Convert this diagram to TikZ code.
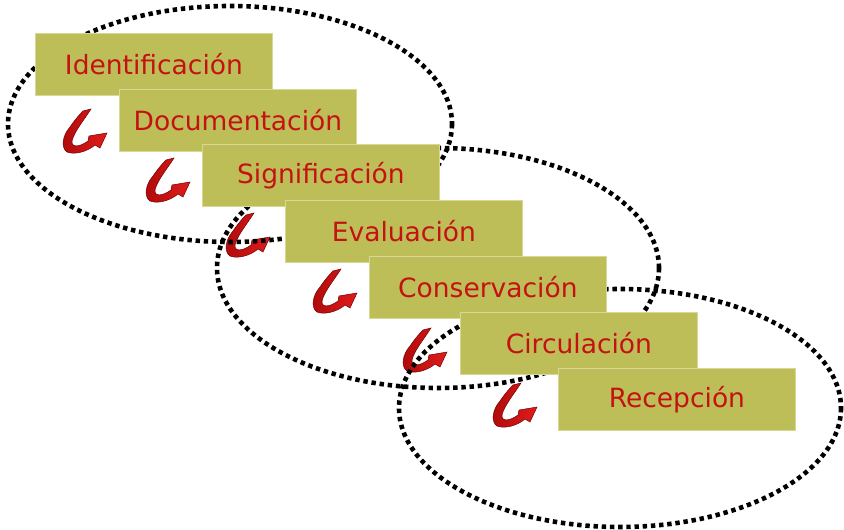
\documentclass[tikz,border=0pt]{standalone}
\usepackage{fontspec}
\setmainfont{DejaVu Sans}
\usetikzlibrary{calc}
\definecolor{boxolive}{RGB}{190,190,88}
\definecolor{boxedge}{RGB}{215,215,150}
\definecolor{txtred}{RGB}{196,18,18}
\definecolor{arrred}{RGB}{225,28,28}
\definecolor{arrmid}{RGB}{175,10,10}
\definecolor{arrdark}{RGB}{110,0,0}
\pgfdeclarelayer{bg}
\pgfsetlayers{bg,main}
\begin{document}
\begin{tikzpicture}[x=1pt,y=-1pt,
  stepbox/.style={fill=boxolive, draw=boxedge, line width=0.8pt,
    minimum width=237pt, minimum height=62pt, anchor=north west,
    inner sep=0pt, text=txtred, font=\fontsize{26.5}{30}\selectfont},
  dotline/.style={line width=4.6pt, dash pattern=on 4.4pt off 3.8pt, black},
  uarrow/.pic={
    \shade[left color=arrmid, right color=arrred, draw=arrdark, line width=0.5pt]
      (21,3) -- (29,1)
      .. controls (22,12) and (12,24) .. (10,33)
      .. controls (9,40) and (18,39) .. (26,33)
      -- (27,28) -- (45,25) -- (38,40) -- (33,37)
      .. controls (25,44) and (12,47) .. (5,44)
      .. controls (-1,40) and (0,28) .. (8,19)
      .. controls (12,13) and (17,7) .. (21,3) -- cycle;
  }]
\useasboundingbox (0,0) rectangle (844,530);

\node[stepbox] (b1) at (35,33)  {Identificación};
\node[stepbox] (b2) at (119,89) {Documentación};
\node[stepbox] (b3) at (202,144) {Significación};
\node[stepbox] (b4) at (285,200) {Evaluación};
\node[stepbox] (b5) at (369,256) {Conservación};
\node[stepbox] (b6) at (460,312) {Circulación};
\node[stepbox] (b7) at (558,368) {Recepción};

\begin{pgfonlayer}{bg}
  \pic at ($(b2.north west)+(-57,19)$) {uarrow};
  \pic at ($(b3.north west)+(-57,13)$) {uarrow};
  \pic at ($(b4.north west)+(-60,12)$) {uarrow};
  \pic at ($(b5.north west)+(-57,12)$) {uarrow};
  \pic at ($(b6.north west)+(-58,15)$) {uarrow};
  \pic at ($(b7.north west)+(-66,14)$) {uarrow};
  \coordinate (e1) at (230,124);
  \coordinate (e2) at (438,268);
  \coordinate (e3) at (620,408);
  \draw[dotline] (e1) ellipse [x radius=222, y radius=118];
  \draw[dotline] (e2) ellipse [x radius=221, y radius=120];
  \draw[dotline] (e3) ellipse [x radius=221, y radius=119];
\end{pgfonlayer}
\end{tikzpicture}
\end{document}
